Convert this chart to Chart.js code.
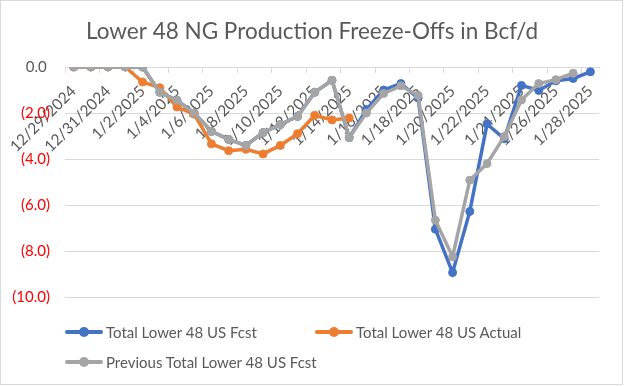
<!DOCTYPE html>
<html>
<head>
<meta charset="utf-8">
<script src="https://cdn.jsdelivr.net/npm/chart.js@4.4.1/dist/chart.umd.min.js"></script>
<style>
  html, body { margin: 0; padding: 0; background: #ffffff; }
  #wrap { position: relative; width: 624px; height: 386px; overflow: hidden; background: #fff; }
  #c { position: absolute; left: 0; top: 0; }
  #frame { position: absolute; left: 0; top: 0; width: 623px; height: 385px; box-sizing: border-box; border: 1px solid #d9d9d9; pointer-events: none; }
  .leg { position: absolute; display: flex; align-items: center; height: 20px; font-family: Lato, "Open Sans", sans-serif; font-size: 15px; color: #595959; white-space: nowrap; }
  .sw { position: relative; width: 38px; height: 20px; margin-right: 3px; }
  .sw .ln { position: absolute; left: 0; top: 8px; width: 38px; height: 4px; border-radius: 2px; }
  .sw .dot { position: absolute; left: 14px; top: 5px; width: 10px; height: 10px; border-radius: 50%; }
</style>
</head>
<body>
<div id="wrap">
  <canvas id="c" width="624" height="386"></canvas>
  <div id="legend"></div>
  <div id="frame"></div>
</div>
<script>
// ---- data ----
const categories = [
  '12/29/2024','12/30/2024','12/31/2024','1/1/2025','1/2/2025','1/3/2025','1/4/2025','1/5/2025',
  '1/6/2025','1/7/2025','1/8/2025','1/9/2025','1/10/2025','1/11/2025','1/12/2025','1/13/2025',
  '1/14/2025','1/15/2025','1/16/2025','1/17/2025','1/18/2025','1/19/2025','1/20/2025','1/21/2025',
  '1/22/2025','1/23/2025','1/24/2025','1/25/2025','1/26/2025','1/27/2025','1/28/2025'
];
const seriesNames = ['Total Lower 48 US Fcst', 'Total Lower 48 US Actual', 'Previous Total Lower 48 US Fcst'];
const totalFcst = [
  0, 0, 0, 0, 0, -1.1, -1.45, -2.0, -2.8, -3.15, -3.41, -2.85, -2.5, -2.15, -1.1, -0.58,
  -3.07, -1.85, -1.0, -0.72, -1.35, -7.05, -8.94, -6.28, -2.48, -3.12, -0.8, -1.02, -0.6, -0.5, -0.21
];
const totalActual = [
  0, 0, 0, 0, -0.65, -0.9, -1.74, -2.05, -3.34, -3.64, -3.58, -3.78, -3.41, -2.9, -2.1, -2.3,
  -2.22, null, null, null, null, null, null, null, null, null, null, null, null, null, null
];
const prevFcst = [
  0, 0, 0, 0, 0, -1.1, -1.45, -2.0, -2.8, -3.15, -3.41, -2.85, -2.5, -2.15, -1.1, -0.58,
  -3.07, -2.0, -1.15, -0.82, -1.23, -6.66, -8.25, -4.92, -4.2, -3.02, -1.43, -0.72, -0.55, -0.27, null
];
const yTickValues = [0, -2, -4, -6, -8, -10];
const yTickLabels = ['0.0\u2008', '(2.0)', '(4.0)', '(6.0)', '(8.0)', '(10.0)'];
const titleText = 'Lower 48 NG Production Freeze-Offs in Bcf/d';

// ---- styles ----
const colors = ['#4472C4', '#ED7D31', '#A5A5A5'];
const FONT = 'Lato, "Open Sans", sans-serif';
const TEXT = '#595959';
const GRID = '#D9D9D9';

function ds(i, data, order) {
  return {
    label: seriesNames[i],
    data: data,
    borderColor: colors[i],
    backgroundColor: colors[i],
    pointBackgroundColor: colors[i],
    pointBorderColor: colors[i],
    borderWidth: 3.5,
    pointRadius: 4,
    pointBorderWidth: 1,
    tension: 0,
    fill: false,
    order: order
  };
}

new Chart(document.getElementById('c'), {
  type: 'line',
  data: {
    labels: categories,
    datasets: [ds(0, totalFcst, 3), ds(1, totalActual, 2), ds(2, prevFcst, 1)]
  },
  options: {
    responsive: false,
    animation: false,
    events: [],
    layout: { padding: { left: 0, right: 0, top: 0, bottom: 89 } },
    plugins: {
      legend: { display: false },
      tooltip: { enabled: false },
      title: {
        display: true,
        text: titleText,
        color: TEXT,
        font: { family: FONT, size: 22.5, weight: 'normal', lineHeight: 1.2 },
        padding: { top: 18, bottom: 22 }
      }
    },
    scales: {
      x: {
        position: { y: 0 },
        offset: true,
        grid: {
          offset: true,
          drawOnChartArea: false,
          drawTicks: true,
          tickLength: 5,
          tickColor: (ctx) => (ctx.index % 2 === 0 ? GRID : 'rgba(0,0,0,0)'),
          tickWidth: 1
        },
        border: { display: true, color: GRID, width: 1 },
        ticks: {
          autoSkip: false,
          minRotation: 45,
          maxRotation: 45,
          padding: 10,
          color: TEXT,
          font: { family: FONT, size: 15.5 },
          callback: (v, i) => (i % 2 === 0 ? categories[i] : '')
        }
      },
      y: {
        min: -10,
        max: 0,
        afterBuildTicks: (scale) => { scale.ticks = yTickValues.map(v => ({ value: v })); },
        afterFit: (scale) => { scale.width = 65; },
        grid: { color: GRID, lineWidth: 1, drawTicks: false },
        border: { display: false },
        ticks: {
          padding: 15,
          font: { family: FONT, size: 15 },
          color: (ctx) => (ctx.tick && ctx.tick.value < 0 ? '#FF0000' : TEXT),
          callback: (v) => {
            const k = yTickValues.indexOf(v);
            return k >= 0 ? yTickLabels[k] : '';
          }
        }
      },
      yRightGap: {
        position: 'right',
        display: true,
        min: -10,
        max: 0,
        grid: { display: false, drawTicks: false },
        border: { display: false },
        ticks: { display: false },
        afterFit: (scale) => { scale.width = 25; }
      }
    }
  }
});

// ---- legend (HTML, built from series names) ----
const legendPos = [[65, 322], [315, 322], [65, 352]];
const legEl = document.getElementById('legend');
seriesNames.forEach((name, i) => {
  const d = document.createElement('div');
  d.className = 'leg';
  d.style.left = legendPos[i][0] + 'px';
  d.style.top = legendPos[i][1] + 'px';
  d.innerHTML = '<span class="sw"><i class="ln" style="background:' + colors[i] + '"></i><i class="dot" style="background:' + colors[i] + '"></i></span><span>' + name + '</span>';
  legEl.appendChild(d);
});
</script>
</body>
</html>
